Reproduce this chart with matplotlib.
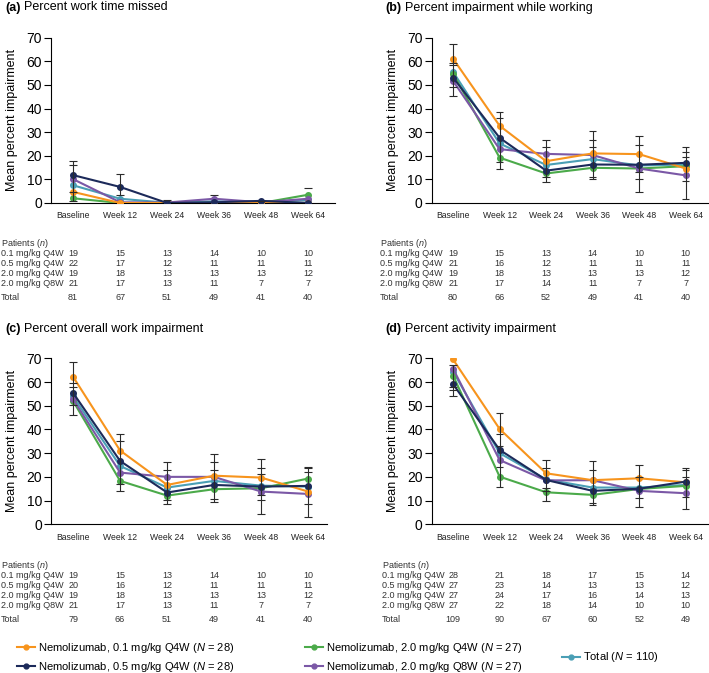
import matplotlib
matplotlib.use("Agg")
import matplotlib.pyplot as plt
from matplotlib.lines import Line2D
import matplotlib.transforms as mtransforms

plt.rcParams["font.family"] = ["Liberation Sans", "DejaVu Sans"]
plt.rcParams["mathtext.fontset"] = "custom"
plt.rcParams["mathtext.rm"] = "Liberation Sans"
plt.rcParams["mathtext.it"] = "Liberation Sans:italic"

weeks = ["Baseline", "Week 12", "Week 24", "Week 36", "Week 48", "Week 64"]
groups = ["0.1 mg/kg Q4W", "0.5 mg/kg Q4W", "2.0 mg/kg Q4W", "2.0 mg/kg Q8W"]
legend_labels = [
    "Nemolizumab, 0.1 mg/kg Q4W ($N$ = 28)",
    "Nemolizumab, 0.5 mg/kg Q4W ($N$ = 28)",
    "Nemolizumab, 2.0 mg/kg Q4W ($N$ = 27)",
    "Nemolizumab, 2.0 mg/kg Q8W ($N$ = 27)",
    "Total ($N$ = 110)",
]
colors = {"q01": "#F7941D", "q05": "#1C2A5A", "q20": "#4BAA4A", "q8w": "#7B58A6", "tot": "#4A9FB5"}

# (a) Percent work time missed
a_q01 = [4.7, 0.0, 0.0, 0.0, 0.0, 0.0]
a_q05 = [11.8, 6.8, 0.0, 0.3, 0.9, 0.0]
a_q20 = [2.0, 0.0, 0.0, 0.0, 0.0, 3.5]
a_q8w = [10.1, 0.3, 0.2, 1.8, 0.3, 1.8]
a_tot = [7.5, 1.8, 0.1, 0.7, 0.4, 1.2]
a_caps = [[17.9, 16.0, 4.8, 1.0], [12.3, 3.3], [1.4], [3.5], [1.0], [6.4]]
a_n = [[19, 15, 13, 14, 10, 10], [22, 17, 12, 11, 11, 11], [19, 18, 13, 13, 13, 12],
       [21, 17, 13, 11, 7, 7], [81, 67, 51, 49, 41, 40]]

# (b) Percent impairment while working
b_q01 = [61.1, 32.7, 17.7, 21.0, 20.7, 14.6]
b_q05 = [53.1, 27.6, 13.7, 16.3, 16.2, 17.0]
b_q20 = [54.8, 19.2, 12.5, 14.9, 14.6, 15.6]
b_q8w = [51.7, 22.8, 20.8, 20.3, 14.6, 11.7]
b_tot = [55.5, 25.2, 16.1, 18.6, 15.9, 16.3]
b_caps = [[67.2, 59.3, 58.3, 49.2, 45.4], [38.6, 35.8, 17.5, 14.2], [26.8, 23.8, 11.1, 9.0],
          [30.7, 26.6, 23.8, 11.1, 10.1], [28.2, 24.4, 13.2, 10.3, 4.5], [23.8, 21.4, 19.6, 9.4, 1.7]]
b_n = [[19, 15, 13, 14, 10, 10], [21, 16, 12, 11, 11, 11], [19, 18, 13, 13, 13, 12],
       [21, 17, 14, 11, 7, 7], [80, 66, 52, 49, 41, 40]]

# (c) Percent overall work impairment
c_q01 = [62.2, 31.1, 16.6, 20.5, 19.7, 13.8]
c_q05 = [55.4, 26.7, 13.4, 16.6, 15.9, 16.2]
c_q20 = [52.0, 18.3, 12.1, 14.8, 15.2, 19.3]
c_q8w = [52.7, 21.8, 20.0, 20.0, 13.8, 12.8]
c_tot = [53.9, 24.6, 15.5, 18.3, 16.3, 15.9]
c_caps = [[68.4, 59.4, 57.7, 50.1, 46.0], [38.0, 35.2, 16.8, 14.1], [26.4, 22.9, 10.3, 8.4],
          [29.8, 26.2, 22.9, 10.7, 9.6], [27.6, 23.6, 21.4, 12.4, 10.3, 4.2], [24.2, 23.6, 22.2, 8.6, 3.0]]
c_n = [[19, 15, 13, 14, 10, 10], [20, 16, 12, 11, 11, 11], [19, 18, 13, 13, 13, 12],
       [21, 17, 13, 11, 7, 7], [79, 66, 51, 49, 41, 40]]

# (d) Percent activity impairment
d_q01 = [69.5, 40.2, 21.5, 18.6, 19.4, 17.7]
d_q05 = [59.1, 31.4, 18.7, 14.1, 15.0, 18.0]
d_q20 = [62.7, 20.1, 13.5, 12.4, 14.9, 16.2]
d_q8w = [65.6, 27.1, 18.5, 18.6, 14.1, 13.1]
d_tot = [64.4, 30.0, 18.9, 15.5, 15.5, 16.6]
d_caps = [[67.2, 57.7, 56.7, 53.9], [47.1, 38.0, 33.2, 24.3, 15.9], [27.1, 23.9, 15.5, 14.1, 10.0],
          [26.7, 22.9, 9.1, 8.2], [24.8, 20.1, 11.0, 7.5], [23.6, 22.9, 20.1, 11.7, 6.3]]
d_n = [[28, 21, 18, 17, 15, 14], [27, 23, 14, 13, 13, 12], [27, 24, 17, 16, 14, 13],
       [27, 22, 18, 14, 10, 10], [109, 90, 67, 60, 52, 49]]

panels = [
    ("(a)", "Percent work time missed", [a_q01, a_q05, a_q20, a_q8w, a_tot], a_caps, a_n),
    ("(b)", "Percent impairment while working", [b_q01, b_q05, b_q20, b_q8w, b_tot], b_caps, b_n),
    ("(c)", "Percent overall work impairment", [c_q01, c_q05, c_q20, c_q8w, c_tot], c_caps, c_n),
    ("(d)", "Percent activity impairment", [d_q01, d_q05, d_q20, d_q8w, d_tot], d_caps, d_n),
]

W, H = 709, 673
fig = plt.figure(figsize=(W / 100, H / 100), dpi=100)

# axes boxes in pixels: left, top, right, bottom
boxes = [(51, 37.7, 335, 203), (431.7, 37.7, 708, 203),
         (51, 358.3, 327, 524.3), (431.7, 358.3, 708, 524.3)]
title_pos = [(5, 7.5), (385, 7.5), (5, 329), (385, 329)]
table_x = [1, 380, 1, 382]
table_y = [[243, 253.3, 263.5, 273.7, 283.8, 297.3], [243, 253.3, 263.5, 273.7, 283.8, 297.3],
           [565, 575, 585.2, 595.5, 605.5, 619], [565, 575, 585.2, 595.5, 605.5, 619]]
xlims = [(-0.47, 5.57), (-0.46, 5.48), (-0.47, 5.4), (-0.46, 5.48)]

keys = ["q01", "q05", "q20", "q8w", "tot"]
draw_order = [4, 2, 3, 0, 1]
x = list(range(len(weeks)))

for i, (tag, title, series, caps, nums) in enumerate(panels):
    l, t, r, b = boxes[i]
    ax = fig.add_axes([l / W, 1 - b / H, (r - l) / W, (b - t) / H])
    for k in draw_order:
        ax.plot(x, series[k], color=colors[keys[k]], lw=1.5, marker="o", ms=4, zorder=3)
    for xi, cl in enumerate(caps):
        ax.vlines(xi, min(cl), max(cl), color="#2b2b2b", lw=0.8, zorder=4)
        ax.hlines(cl, xi - 0.08, xi + 0.08, color="#2b2b2b", lw=0.8, zorder=4)
    ax.set_ylim(0, 70)
    ax.set_xlim(*xlims[i])
    ax.set_yticks(range(0, 71, 10))
    ax.set_xticks(x)
    ax.set_xticklabels(weeks, fontsize=6.2, color="#222222")
    ax.tick_params(axis="x", length=0, pad=6)
    ax.tick_params(axis="y", length=5, width=0.8, pad=1.5, labelsize=10)
    ax.set_ylabel("Mean percent impairment", fontsize=9, labelpad=6)
    for s in ["top", "right"]:
        ax.spines[s].set_visible(False)
    for s in ["left", "bottom"]:
        ax.spines[s].set_linewidth(0.8)

    tx, ty = title_pos[i]
    tt = fig.text(tx / W, 1 - ty / H, tag, fontsize=9, fontweight="bold", va="center")
    ax.annotate(title, xy=(1, 0.5), xycoords=tt, xytext=(2.5, 0), textcoords="offset points",
                fontsize=9, va="center", ha="left")

    # patient counts table
    rows = table_y[i]
    fig.text(table_x[i] / W, 1 - rows[0] / H, "Patients ($n$)", fontsize=6.5, va="center", color="#333333")
    trans = mtransforms.blended_transform_factory(ax.transData, fig.transFigure)
    for j, row in enumerate(nums):
        lab = groups[j] if j < 4 else "Total"
        yy = 1 - rows[j + 1] / H
        fig.text(table_x[i] / W, yy, lab, fontsize=6.5, va="center", color="#333333")
        for xi, v in enumerate(row):
            ax.text(xi, yy, str(v), transform=trans, fontsize=6.5, ha="center", va="center",
                    color="#333333", clip_on=False)

# legend
h = [Line2D([0], [0], color=colors[k], lw=1.5, marker="o", ms=3.5) for k in keys]
leg_kw = dict(frameon=False, fontsize=8, handlelength=1.6, handletextpad=0.3,
              borderpad=0, borderaxespad=0, labelspacing=0.4, loc="center left")
fig.legend(h[0:2], legend_labels[0:2], bbox_to_anchor=(17 / W, 1 - 657.5 / H), **leg_kw)
fig.legend(h[2:4], legend_labels[2:4], bbox_to_anchor=(305 / W, 1 - 657.5 / H), **leg_kw)
fig.legend(h[4:5], legend_labels[4:5], bbox_to_anchor=(562 / W, 1 - 657.5 / H), **leg_kw)

fig.savefig("out.png", dpi=100)
